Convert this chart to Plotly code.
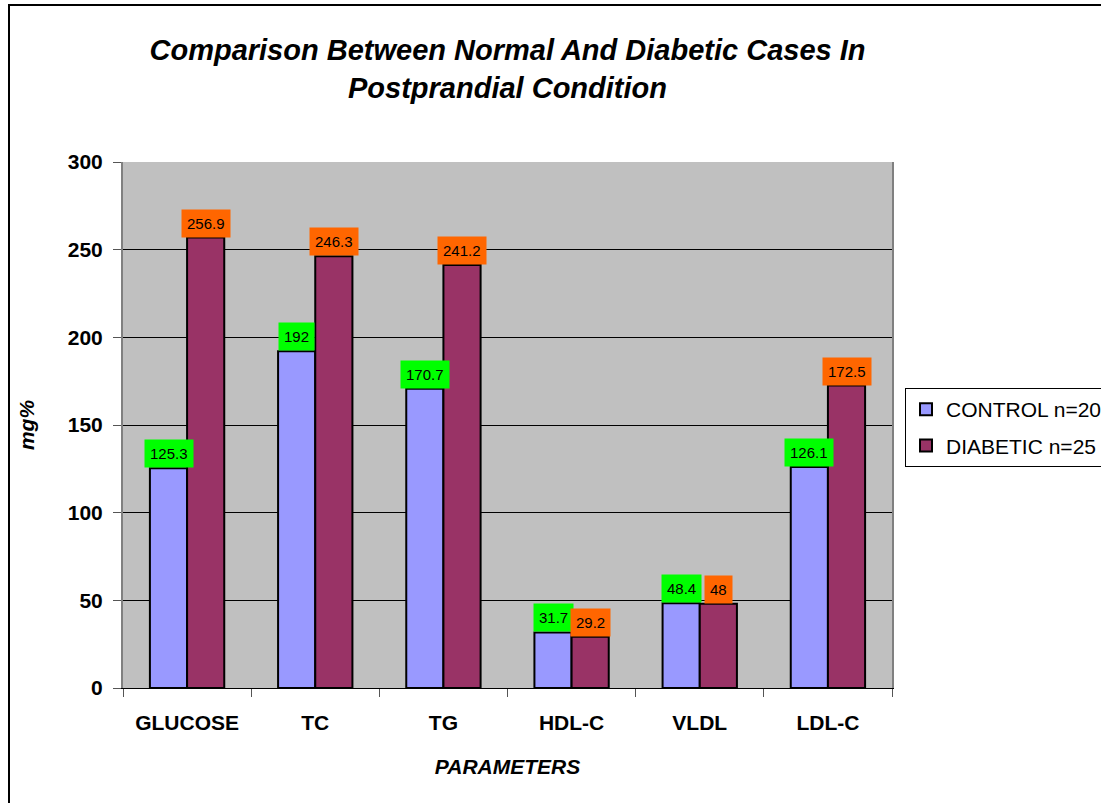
import plotly.graph_objects as go

categories = ["GLUCOSE", "TC", "TG", "HDL-C", "VLDL", "LDL-C"]
control = [125.3, 192, 170.7, 31.7, 48.4, 126.1]
diabetic = [256.9, 246.3, 241.2, 29.2, 48, 172.5]
control_labels = ["125.3", "192", "170.7", "31.7", "48.4", "126.1"]
diabetic_labels = ["256.9", "246.3", "241.2", "29.2", "48", "172.5"]

FONT = "Liberation Sans, Arial, sans-serif"
W, H = 1125, 803
L, R, T, B = 123, 233, 162, 115
PW, PH = W - L - R, H - T - B
BARGAP = 0.42

fig = go.Figure()
fig.add_trace(go.Bar(x=categories, y=control, name="CONTROL n=20", legendgroup="c",
                     marker=dict(color="#9999FF", line=dict(color="black", width=2))))
fig.add_trace(go.Bar(x=categories, y=diabetic, name="DIABETIC n=25", legendgroup="d",
                     marker=dict(color="#993366", line=dict(color="black", width=2))))

off = (1 - BARGAP) / 4
for i, cat in enumerate(categories):
    fig.add_annotation(x=i - off, y=control[i], xref="x", yref="y", text=control_labels[i],
                       showarrow=False, yanchor="bottom", bgcolor="#00FF00", borderpad=5,
                       font=dict(family=FONT, size=15, color="black"))
    fig.add_annotation(x=i + off, y=diabetic[i], xref="x", yref="y", text=diabetic_labels[i],
                       showarrow=False, yanchor="bottom", bgcolor="#FF6600", borderpad=5,
                       font=dict(family=FONT, size=15, color="black"))

# outer chart frame
fig.add_shape(type="rect", xref="paper", yref="paper",
              x0=(9 - L) / PW, x1=(1118 - L) / PW,
              y0=-(815 - (H - B)) / PH, y1=((H - B) - 5) / PH,
              line=dict(color="black", width=2), layer="below")

fig.update_layout(
    width=W, height=H,
    margin=dict(l=L, r=R, t=T, b=B),
    paper_bgcolor="white", plot_bgcolor="#C0C0C0",
    barmode="group", bargap=BARGAP, bargroupgap=0,
    title=dict(text="<b><i>Comparison Between Normal And Diabetic Cases In<br>Postprandial Condition</i></b>",
               x=0.5, xref="paper", xanchor="center", y=1 - 60 / H, yanchor="middle",
               font=dict(family=FONT, size=29, color="black")),
    legend=dict(x=(905 - L) / PW, y=((H - B) - 388) / PH, xanchor="left", yanchor="top",
                bordercolor="black", borderwidth=1, bgcolor="white", itemwidth=30,
                font=dict(family=FONT, size=21, color="black"), tracegroupgap=6),
    showlegend=True,
)
fig.update_xaxes(type="category", tickson="boundaries", ticks="outside", ticklen=8, tickcolor="#555555",
                 showline=True, linecolor="black", linewidth=1,
                 tickvals=categories, ticktext=["<b>" + c + "</b>" for c in categories],
                 tickfont=dict(family=FONT, size=21, color="black"), ticklabelstandoff=16,
                 title=dict(text="<b><i>PARAMETERS</i></b>", font=dict(family=FONT, size=21, color="black"),
                            standoff=26))
fig.update_yaxes(range=[0, 300], dtick=50, ticks="outside", ticklen=8, tickcolor="#555555",
                 showgrid=True, gridcolor="black", gridwidth=1,
                 showline=True, linecolor="#808080", linewidth=2, mirror=True, zeroline=False,
                 tickfont=dict(family=FONT, size=21, color="black"), ticklabelstandoff=6,
                 tickprefix="<b>", ticksuffix="</b>",
                 title=dict(text="<b><i>mg%</i></b>", font=dict(family=FONT, size=21, color="black"),
                            standoff=27))

fig.write_html("out.html", config={"displayModeBar": False},
               post_script="document.body.style.margin='0px';document.body.style.overflow='hidden';")
